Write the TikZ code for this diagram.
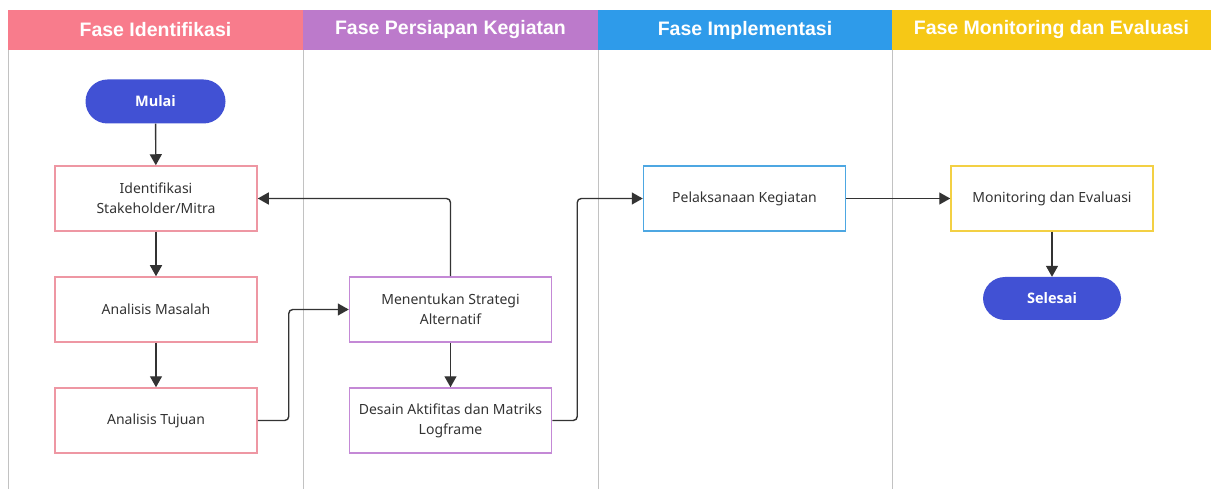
\documentclass[tikz,border=0pt]{standalone}
\usepackage{fontspec}
\setmainfont{Noto Sans}
\newfontfamily\headfont{Liberation Sans}
\newfontfamily\pillfont{Open Sans}
\usepackage{tikz}
\usetikzlibrary{arrows.meta}

\definecolor{pinkhead}{HTML}{F87C8C}
\definecolor{purplehead}{HTML}{BC7ACB}
\definecolor{bluehead}{HTML}{2E9BEA}
\definecolor{yellowhead}{HTML}{F6C816}
\definecolor{pinkline}{HTML}{EE97A3}
\definecolor{purpleline}{HTML}{C489D6}
\definecolor{blueline}{HTML}{4DA7E2}
\definecolor{yellowline}{HTML}{F3D044}
\definecolor{pill}{HTML}{4151D4}
\definecolor{arrowgray}{HTML}{333333}
\definecolor{lanegray}{HTML}{C2C2C2}

\begin{document}
\begin{tikzpicture}[x=1pt, y=-1pt,
        head/.style={minimum height=40pt, inner sep=0pt, text=white,
            font=\headfont\bfseries\fontsize{19.5}{22}\selectfont},
        box/.style={draw=#1, line width=1.5pt, minimum width=202pt, minimum height=65pt,
            inner sep=2pt, align=center, text=black!80,
            font=\fontsize{14}{20}\selectfont},
        terminal/.style={fill=pill, rounded corners=22pt, minimum width=140pt,
            minimum height=44pt, text=white, font=\pillfont\bfseries\fontsize{14.5}{17}\selectfont},
        arr/.style={draw=arrowgray, line width=1.4pt, rounded corners=4pt,
            -{Triangle[length=11pt, width=12pt]}}]
        \useasboundingbox (0,0) rectangle (1211,489);

        \node[head, fill=pinkhead, minimum width=295pt] (hident) at (155.5,30) {Fase Identifikasi};
        \node[head, fill=purplehead, minimum width=295pt] (hsiap) at (450.5,30) {Fase Persiapan Kegiatan};
        \node[head, fill=bluehead, minimum width=294pt] (himpl) at (745,30) {Fase Implementasi};
        \node[head, fill=yellowhead, minimum width=319pt] (hmonev) at (1051.5,30) {Fase Monitoring dan Evaluasi};

        \draw[lanegray, line width=1pt] (8,50) -- (8,489) (303,50) -- (303,489)
            (598,50) -- (598,489) (892,50) -- (892,489);

        \node[terminal] (mulai) at (155.5,101.5) {Mulai};
        \node[box=pinkline] (ident) at (156,198.5) {Identifikasi\\Stakeholder/Mitra};
        \node[box=pinkline] (masalah) at (156,309.5) {Analisis Masalah};
        \node[box=pinkline] (tujuan) at (156,420.5) {Analisis Tujuan};
        \node[box=purpleline] (strategi) at (450.5,309.5) {Menentukan Strategi\\Alternatif};
        \node[box=purpleline] (desain) at (450.5,420.5) {Desain Aktifitas dan Matriks\\Logframe};
        \node[box=blueline] (laksana) at (744.5,198.5) {Pelaksanaan Kegiatan};
        \node[box=yellowline] (monev) at (1052,198.5) {Monitoring dan Evaluasi};
        \node[terminal, minimum width=138pt, minimum height=43pt] (selesai) at (1052,298.5) {Selesai};

        \draw[arr] (mulai) -- (ident);
        \draw[arr] (ident) -- (masalah);
        \draw[arr] (masalah) -- (tujuan);
        \draw[arr] (tujuan.east) -- ++(31,0) |- (strategi.west);
        \draw[arr] (strategi.north) |- (ident.east);
        \draw[arr] (strategi) -- (desain);
        \draw[arr] (desain.east) -- ++(25,0) |- (laksana.west);
        \draw[arr] (laksana) -- (monev);
        \draw[arr] (monev) -- (selesai);
    \end{tikzpicture}
\end{document}
